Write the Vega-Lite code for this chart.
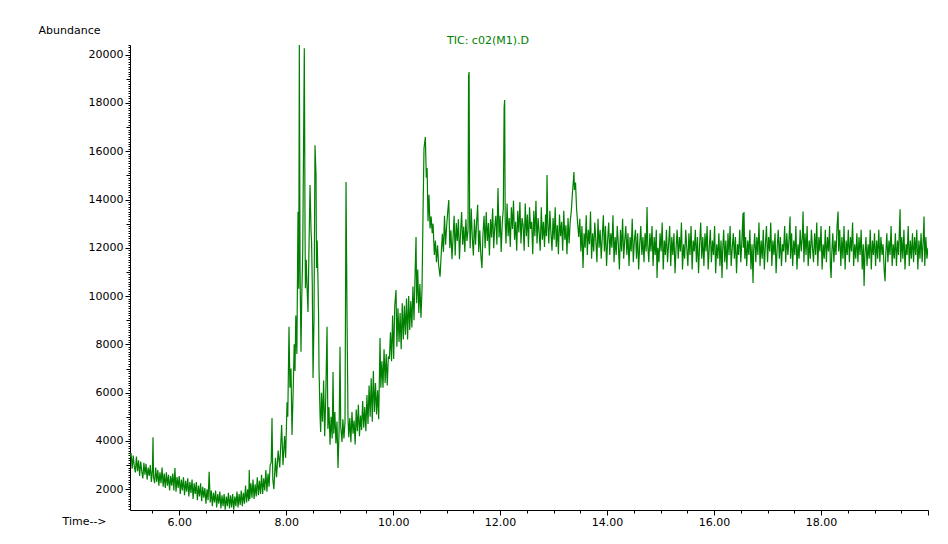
{
  "$schema": "https://vega.github.io/schema/vega-lite/v6.json",
  "width": 798,
  "height": 465,
  "autosize": {"type": "none"},
  "padding": {"left": 130, "top": 45, "right": 20, "bottom": 34},
  "background": "white",
  "title": {
    "text": "TIC: c02(M1).D",
    "anchor": "start",
    "frame": "group",
    "dx": 317,
    "dy": 34,
    "offset": 1,
    "baseline": "bottom",
    "color": "#008000",
    "font": "DejaVu Sans",
    "fontSize": 11,
    "fontWeight": "normal"
  },
  "data": {
    "values": [
      {"t":5.08,"a":3350},{"t":5.10,"a":3500},{"t":5.12,"a":2850},{"t":5.14,"a":3400},{"t":5.16,"a":2950},
      {"t":5.18,"a":2700},{"t":5.20,"a":3350},{"t":5.22,"a":2750},{"t":5.24,"a":3200},{"t":5.26,"a":2550},
      {"t":5.28,"a":3150},{"t":5.30,"a":2750},{"t":5.32,"a":2450},{"t":5.34,"a":3100},{"t":5.36,"a":2600},
      {"t":5.38,"a":3050},{"t":5.40,"a":2400},{"t":5.42,"a":2900},{"t":5.44,"a":2550},{"t":5.46,"a":3000},
      {"t":5.48,"a":2300},{"t":5.50,"a":2850},{"t":5.51,"a":4150},{"t":5.52,"a":2500},{"t":5.54,"a":2250},
      {"t":5.56,"a":2900},{"t":5.58,"a":2300},{"t":5.60,"a":2800},{"t":5.62,"a":2150},{"t":5.64,"a":2700},
      {"t":5.66,"a":2250},{"t":5.68,"a":2900},{"t":5.70,"a":2100},{"t":5.72,"a":2650},{"t":5.74,"a":2050},
      {"t":5.76,"a":2700},{"t":5.78,"a":2150},{"t":5.80,"a":2600},{"t":5.82,"a":1950},{"t":5.84,"a":2550},
      {"t":5.86,"a":2150},{"t":5.88,"a":2650},{"t":5.90,"a":1950},{"t":5.92,"a":2880},{"t":5.94,"a":1900},
      {"t":5.96,"a":2500},{"t":5.98,"a":2050},{"t":6.00,"a":2550},{"t":6.02,"a":1800},{"t":6.04,"a":2400},
      {"t":6.06,"a":1950},{"t":6.08,"a":2500},{"t":6.10,"a":1750},{"t":6.12,"a":2350},{"t":6.14,"a":1900},
      {"t":6.16,"a":2450},{"t":6.18,"a":1700},{"t":6.20,"a":2300},{"t":6.22,"a":1850},{"t":6.24,"a":2400},
      {"t":6.26,"a":1600},{"t":6.28,"a":2250},{"t":6.30,"a":1800},{"t":6.32,"a":2300},{"t":6.34,"a":1550},
      {"t":6.36,"a":2150},{"t":6.38,"a":1700},{"t":6.40,"a":2250},{"t":6.42,"a":1500},{"t":6.44,"a":2100},
      {"t":6.46,"a":1650},{"t":6.48,"a":2050},{"t":6.50,"a":1400},{"t":6.52,"a":2000},{"t":6.54,"a":1550},
      {"t":6.56,"a":2720},{"t":6.58,"a":1450},{"t":6.60,"a":1950},{"t":6.62,"a":1300},{"t":6.64,"a":1850},
      {"t":6.66,"a":1450},{"t":6.68,"a":1950},{"t":6.70,"a":1250},{"t":6.72,"a":1800},{"t":6.74,"a":1400},
      {"t":6.76,"a":1900},{"t":6.78,"a":1200},{"t":6.80,"a":1750},{"t":6.82,"a":1300},{"t":6.84,"a":1800},
      {"t":6.86,"a":1150},{"t":6.88,"a":1700},{"t":6.90,"a":1300},{"t":6.92,"a":1850},{"t":6.94,"a":1200},
      {"t":6.96,"a":1750},{"t":6.98,"a":1250},{"t":7.00,"a":1800},{"t":7.02,"a":1150},{"t":7.04,"a":1700},
      {"t":7.06,"a":1300},{"t":7.08,"a":1900},{"t":7.10,"a":1250},{"t":7.12,"a":1800},{"t":7.14,"a":1350},
      {"t":7.16,"a":1950},{"t":7.18,"a":1300},{"t":7.20,"a":1850},{"t":7.22,"a":1400},{"t":7.24,"a":2150},
      {"t":7.26,"a":1450},{"t":7.28,"a":2000},{"t":7.30,"a":1500},{"t":7.31,"a":2800},{"t":7.32,"a":1600},
      {"t":7.34,"a":2250},{"t":7.36,"a":1650},{"t":7.38,"a":2400},{"t":7.40,"a":1600},{"t":7.42,"a":2200},
      {"t":7.44,"a":1700},{"t":7.46,"a":2500},{"t":7.48,"a":1750},{"t":7.50,"a":2350},{"t":7.52,"a":1800},
      {"t":7.54,"a":2600},{"t":7.56,"a":1800},{"t":7.58,"a":2450},{"t":7.60,"a":1950},{"t":7.62,"a":2800},
      {"t":7.64,"a":1900},{"t":7.66,"a":2650},{"t":7.68,"a":2100},{"t":7.70,"a":3000},{"t":7.72,"a":3100},
      {"t":7.735,"a":4950},{"t":7.75,"a":2400},{"t":7.77,"a":2000},{"t":7.80,"a":3300},{"t":7.82,"a":2500},
      {"t":7.85,"a":3600},{"t":7.88,"a":2900},{"t":7.915,"a":4660},{"t":7.94,"a":3000},{"t":7.97,"a":4200},
      {"t":7.99,"a":3300},{"t":8.016,"a":5600},{"t":8.03,"a":5000},{"t":8.053,"a":8730},{"t":8.07,"a":6200},
      {"t":8.09,"a":7000},{"t":8.109,"a":4250},{"t":8.13,"a":6000},{"t":8.15,"a":8000},{"t":8.165,"a":6900},
      {"t":8.18,"a":9200},{"t":8.20,"a":7600},{"t":8.221,"a":13490},{"t":8.235,"a":10300},{"t":8.246,"a":20400},
      {"t":8.26,"a":11000},{"t":8.277,"a":7690},{"t":8.29,"a":9800},{"t":8.31,"a":11900},{"t":8.339,"a":20270},
      {"t":8.345,"a":17380},{"t":8.352,"a":12950},{"t":8.36,"a":10330},{"t":8.375,"a":11500},{"t":8.39,"a":10400},
      {"t":8.408,"a":9340},{"t":8.425,"a":11800},{"t":8.446,"a":14600},{"t":8.465,"a":12700},{"t":8.475,"a":12240},
      {"t":8.488,"a":10500},{"t":8.502,"a":6610},{"t":8.52,"a":9000},{"t":8.539,"a":16250},{"t":8.558,"a":15020},
      {"t":8.567,"a":11160},{"t":8.58,"a":12300},{"t":8.595,"a":10590},{"t":8.605,"a":9340},{"t":8.614,"a":7000},
      {"t":8.633,"a":5080},{"t":8.645,"a":4370},{"t":8.66,"a":6000},{"t":8.68,"a":4800},{"t":8.70,"a":6500},
      {"t":8.72,"a":4200},{"t":8.74,"a":5800},{"t":8.764,"a":8730},{"t":8.78,"a":4500},{"t":8.80,"a":5400},
      {"t":8.82,"a":3840},{"t":8.84,"a":5000},{"t":8.86,"a":4100},{"t":8.876,"a":6860},{"t":8.89,"a":4300},
      {"t":8.91,"a":5200},{"t":8.93,"a":3900},{"t":8.95,"a":4800},{"t":8.969,"a":2880},{"t":8.99,"a":4500},
      {"t":9.007,"a":7900},{"t":9.02,"a":4600},{"t":9.044,"a":3960},{"t":9.06,"a":4900},{"t":9.08,"a":4100},
      {"t":9.10,"a":4800},{"t":9.119,"a":14730},{"t":9.138,"a":9090},{"t":9.156,"a":4950},{"t":9.17,"a":4150},
      {"t":9.19,"a":4950},{"t":9.21,"a":3950},{"t":9.23,"a":5200},{"t":9.25,"a":4300},{"t":9.27,"a":4850},
      {"t":9.29,"a":3850},{"t":9.31,"a":5300},{"t":9.33,"a":4400},{"t":9.35,"a":5500},{"t":9.37,"a":4200},
      {"t":9.39,"a":5050},{"t":9.41,"a":4450},{"t":9.43,"a":5650},{"t":9.45,"a":4550},{"t":9.47,"a":5400},
      {"t":9.49,"a":4400},{"t":9.51,"a":5900},{"t":9.53,"a":4700},{"t":9.55,"a":6300},{"t":9.57,"a":5000},
      {"t":9.59,"a":6600},{"t":9.61,"a":4800},{"t":9.63,"a":6900},{"t":9.65,"a":5200},{"t":9.67,"a":6400},
      {"t":9.69,"a":5100},{"t":9.71,"a":6100},{"t":9.73,"a":4900},{"t":9.755,"a":8260},{"t":9.77,"a":6200},
      {"t":9.79,"a":7300},{"t":9.81,"a":6200},{"t":9.83,"a":7800},{"t":9.85,"a":6400},{"t":9.87,"a":7600},
      {"t":9.89,"a":6300},{"t":9.91,"a":7500},{"t":9.93,"a":7400},{"t":9.95,"a":8500},{"t":9.97,"a":7300},
      {"t":9.99,"a":9200},{"t":10.01,"a":7400},{"t":10.03,"a":9600},{"t":10.054,"a":10250},{"t":10.07,"a":7900},
      {"t":10.09,"a":9500},{"t":10.11,"a":8100},{"t":10.13,"a":9300},{"t":10.15,"a":7800},{"t":10.17,"a":9700},
      {"t":10.19,"a":8200},{"t":10.21,"a":9600},{"t":10.23,"a":8400},{"t":10.25,"a":9900},{"t":10.27,"a":8200},
      {"t":10.29,"a":10000},{"t":10.31,"a":8600},{"t":10.33,"a":9800},{"t":10.35,"a":8700},{"t":10.37,"a":10400},
      {"t":10.39,"a":9000},{"t":10.41,"a":10900},{"t":10.428,"a":12450},{"t":10.44,"a":9700},{"t":10.46,"a":11100},
      {"t":10.48,"a":9300},{"t":10.50,"a":10500},{"t":10.52,"a":9100},{"t":10.54,"a":10300},{"t":10.559,"a":13480},
      {"t":10.577,"a":16130},{"t":10.602,"a":16590},{"t":10.62,"a":14900},{"t":10.635,"a":15300},{"t":10.652,"a":13100},
      {"t":10.67,"a":14200},{"t":10.69,"a":12800},{"t":10.71,"a":13300},{"t":10.73,"a":12600},{"t":10.746,"a":13000},
      {"t":10.77,"a":11700},{"t":10.79,"a":12300},{"t":10.81,"a":11400},{"t":10.83,"a":12100},{"t":10.85,"a":11300},
      {"t":10.877,"a":10800},{"t":10.90,"a":11800},{"t":10.92,"a":12580},{"t":10.94,"a":11830},{"t":10.96,"a":13330},
      {"t":10.98,"a":12130},{"t":11.00,"a":12880},{"t":11.02,"a":13480},{"t":11.04,"a":13980},{"t":11.06,"a":11980},
      {"t":11.08,"a":12730},{"t":11.10,"a":11530},{"t":11.12,"a":12430},{"t":11.14,"a":13330},{"t":11.16,"a":11680},
      {"t":11.18,"a":13030},{"t":11.20,"a":12280},{"t":11.22,"a":13180},{"t":11.24,"a":11530},{"t":11.26,"a":12580},
      {"t":11.28,"a":13480},{"t":11.30,"a":12130},{"t":11.32,"a":12880},{"t":11.34,"a":11830},{"t":11.36,"a":13180},
      {"t":11.38,"a":12280},{"t":11.40,"a":12730},{"t":11.41,"a":19100},{"t":11.42,"a":19280},{"t":11.43,"a":13030},
      {"t":11.44,"a":11980},{"t":11.46,"a":13630},{"t":11.48,"a":12430},{"t":11.50,"a":11680},{"t":11.52,"a":13180},
      {"t":11.54,"a":12130},{"t":11.56,"a":13030},{"t":11.58,"a":13780},{"t":11.60,"a":11830},{"t":11.62,"a":12730},
      {"t":11.64,"a":11680},{"t":11.66,"a":11160},{"t":11.68,"a":12580},{"t":11.70,"a":13330},{"t":11.72,"a":11980},
      {"t":11.74,"a":13480},{"t":11.76,"a":12280},{"t":11.78,"a":13030},{"t":11.80,"a":11680},{"t":11.82,"a":13180},
      {"t":11.84,"a":12430},{"t":11.86,"a":13630},{"t":11.88,"a":11980},{"t":11.90,"a":12880},{"t":11.92,"a":13330},
      {"t":11.94,"a":12130},{"t":11.96,"a":14480},{"t":11.98,"a":12430},{"t":12.00,"a":13330},{"t":12.02,"a":11830},
      {"t":12.04,"a":13030},{"t":12.06,"a":13630},{"t":12.075,"a":17800},{"t":12.085,"a":18120},{"t":12.095,"a":13080},
      {"t":12.11,"a":12180},{"t":12.13,"a":13830},{"t":12.15,"a":12480},{"t":12.17,"a":13230},{"t":12.19,"a":12030},
      {"t":12.21,"a":13680},{"t":12.23,"a":12780},{"t":12.25,"a":13950},{"t":12.27,"a":12330},{"t":12.29,"a":13080},
      {"t":12.31,"a":11880},{"t":12.33,"a":13530},{"t":12.35,"a":12630},{"t":12.37,"a":13900},{"t":12.39,"a":12180},
      {"t":12.41,"a":13230},{"t":12.43,"a":12930},{"t":12.45,"a":11880},{"t":12.47,"a":13830},{"t":12.49,"a":12480},
      {"t":12.51,"a":13380},{"t":12.53,"a":12030},{"t":12.55,"a":13680},{"t":12.57,"a":12780},{"t":12.59,"a":13080},
      {"t":12.61,"a":11730},{"t":12.63,"a":13530},{"t":12.65,"a":12480},{"t":12.67,"a":13950},{"t":12.69,"a":12180},
      {"t":12.71,"a":13230},{"t":12.73,"a":12630},{"t":12.75,"a":11880},{"t":12.77,"a":13680},{"t":12.79,"a":12330},
      {"t":12.81,"a":13080},{"t":12.83,"a":12030},{"t":12.85,"a":13380},{"t":12.865,"a":12480},{"t":12.877,"a":15020},
      {"t":12.89,"a":13080},{"t":12.91,"a":12180},{"t":12.93,"a":13530},{"t":12.95,"a":12630},{"t":12.97,"a":11880},
      {"t":12.99,"a":13230},{"t":13.01,"a":12330},{"t":13.03,"a":13680},{"t":13.05,"a":12030},{"t":13.07,"a":12930},
      {"t":13.09,"a":11730},{"t":13.11,"a":13380},{"t":13.13,"a":12480},{"t":13.15,"a":13080},{"t":13.17,"a":11880},
      {"t":13.19,"a":13530},{"t":13.21,"a":12330},{"t":13.23,"a":12930},{"t":13.25,"a":11730},{"t":13.27,"a":13230},
      {"t":13.29,"a":12180},{"t":13.31,"a":13080},{"t":13.33,"a":13500},{"t":13.35,"a":14200},{"t":13.37,"a":14800},
      {"t":13.38,"a":15140},{"t":13.39,"a":14400},{"t":13.41,"a":14700},{"t":13.43,"a":13600},{"t":13.45,"a":13000},
      {"t":13.47,"a":12450},{"t":13.49,"a":13200},{"t":13.51,"a":11850},{"t":13.53,"a":12900},{"t":13.55,"a":11160},
      {"t":13.57,"a":12600},{"t":13.59,"a":12000},{"t":13.61,"a":13350},{"t":13.63,"a":11700},{"t":13.65,"a":12750},
      {"t":13.67,"a":12150},{"t":13.69,"a":13500},{"t":13.71,"a":11550},{"t":13.73,"a":12600},{"t":13.75,"a":11850},
      {"t":13.77,"a":13050},{"t":13.79,"a":12300},{"t":13.81,"a":11400},{"t":13.83,"a":13200},{"t":13.85,"a":12000},
      {"t":13.87,"a":12750},{"t":13.89,"a":11550},{"t":13.91,"a":12450},{"t":13.93,"a":13350},{"t":13.95,"a":11850},
      {"t":13.97,"a":12900},{"t":13.99,"a":11250},{"t":14.01,"a":12300},{"t":14.03,"a":13050},{"t":14.05,"a":11700},
      {"t":14.07,"a":12600},{"t":14.09,"a":12000},{"t":14.11,"a":13350},{"t":14.13,"a":11400},{"t":14.15,"a":12450},
      {"t":14.17,"a":11700},{"t":14.19,"a":12900},{"t":14.21,"a":12150},{"t":14.23,"a":11100},{"t":14.25,"a":12750},
      {"t":14.27,"a":11850},{"t":14.29,"a":13200},{"t":14.31,"a":11550},{"t":14.33,"a":12300},{"t":14.35,"a":12900},
      {"t":14.37,"a":11700},{"t":14.39,"a":12600},{"t":14.41,"a":11250},{"t":14.43,"a":12450},{"t":14.45,"a":11850},
      {"t":14.47,"a":13200},{"t":14.49,"a":11400},{"t":14.51,"a":12300},{"t":14.53,"a":12750},{"t":14.55,"a":11550},
      {"t":14.57,"a":12600},{"t":14.59,"a":11100},{"t":14.61,"a":12150},{"t":14.63,"a":12900},{"t":14.65,"a":11700},
      {"t":14.67,"a":12450},{"t":14.69,"a":11400},{"t":14.71,"a":12600},{"t":14.73,"a":11850},{"t":14.747,"a":13690},
      {"t":14.76,"a":12150},{"t":14.78,"a":11400},{"t":14.80,"a":12600},{"t":14.82,"a":11850},{"t":14.84,"a":12900},
      {"t":14.86,"a":11250},{"t":14.88,"a":12450},{"t":14.90,"a":11700},{"t":14.92,"a":12750},{"t":14.934,"a":10750},
      {"t":14.95,"a":12000},{"t":14.97,"a":11400},{"t":14.99,"a":12600},{"t":15.01,"a":11850},{"t":15.03,"a":13050},
      {"t":15.05,"a":11100},{"t":15.07,"a":12300},{"t":15.09,"a":11700},{"t":15.11,"a":12750},{"t":15.13,"a":11400},
      {"t":15.15,"a":12150},{"t":15.17,"a":12900},{"t":15.19,"a":11250},{"t":15.21,"a":12450},{"t":15.23,"a":11700},
      {"t":15.25,"a":12600},{"t":15.27,"a":10950},{"t":15.29,"a":12000},{"t":15.31,"a":12750},{"t":15.33,"a":11550},
      {"t":15.35,"a":12450},{"t":15.37,"a":11850},{"t":15.39,"a":13050},{"t":15.41,"a":11100},{"t":15.43,"a":12150},
      {"t":15.45,"a":11550},{"t":15.47,"a":12750},{"t":15.49,"a":12000},{"t":15.51,"a":11250},{"t":15.53,"a":12600},
      {"t":15.55,"a":11700},{"t":15.57,"a":12900},{"t":15.59,"a":11100},{"t":15.61,"a":12300},{"t":15.63,"a":11850},
      {"t":15.65,"a":12750},{"t":15.67,"a":11400},{"t":15.69,"a":12450},{"t":15.71,"a":10950},{"t":15.73,"a":12150},
      {"t":15.75,"a":13050},{"t":15.77,"a":11550},{"t":15.79,"a":12450},{"t":15.81,"a":11250},{"t":15.83,"a":12600},
      {"t":15.85,"a":11850},{"t":15.87,"a":12900},{"t":15.89,"a":11100},{"t":15.91,"a":12000},{"t":15.93,"a":12750},
      {"t":15.95,"a":11400},{"t":15.97,"a":12300},{"t":15.99,"a":11700},{"t":16.01,"a":12900},{"t":16.03,"a":10950},
      {"t":16.05,"a":12150},{"t":16.07,"a":11550},{"t":16.09,"a":12600},{"t":16.11,"a":11250},{"t":16.13,"a":12300},
      {"t":16.149,"a":10750},{"t":16.16,"a":11850},{"t":16.18,"a":12750},{"t":16.20,"a":11400},{"t":16.22,"a":12300},
      {"t":16.24,"a":11100},{"t":16.26,"a":12600},{"t":16.28,"a":11700},{"t":16.30,"a":12900},{"t":16.32,"a":11250},
      {"t":16.34,"a":12000},{"t":16.36,"a":12600},{"t":16.38,"a":11550},{"t":16.40,"a":12450},{"t":16.42,"a":10950},
      {"t":16.44,"a":12150},{"t":16.46,"a":11700},{"t":16.48,"a":12750},{"t":16.50,"a":11400},{"t":16.52,"a":12300},
      {"t":16.542,"a":13440},{"t":16.55,"a":12000},{"t":16.56,"a":13480},{"t":16.575,"a":11550},{"t":16.59,"a":12450},
      {"t":16.61,"a":11250},{"t":16.63,"a":12300},{"t":16.65,"a":11700},{"t":16.67,"a":12750},{"t":16.69,"a":11100},
      {"t":16.71,"a":12150},{"t":16.729,"a":10540},{"t":16.74,"a":11850},{"t":16.76,"a":12600},{"t":16.78,"a":11400},
      {"t":16.80,"a":12450},{"t":16.82,"a":11700},{"t":16.84,"a":13050},{"t":16.86,"a":11250},{"t":16.88,"a":12300},
      {"t":16.90,"a":11550},{"t":16.92,"a":12750},{"t":16.94,"a":11100},{"t":16.96,"a":12150},{"t":16.98,"a":12900},
      {"t":17.00,"a":11400},{"t":17.02,"a":12450},{"t":17.04,"a":11850},{"t":17.06,"a":13050},{"t":17.08,"a":11250},
      {"t":17.10,"a":12300},{"t":17.12,"a":11700},{"t":17.14,"a":12600},{"t":17.16,"a":10950},{"t":17.18,"a":12000},
      {"t":17.20,"a":12750},{"t":17.22,"a":11550},{"t":17.24,"a":12450},{"t":17.26,"a":11250},{"t":17.28,"a":12150},
      {"t":17.30,"a":11850},{"t":17.32,"a":12900},{"t":17.34,"a":11400},{"t":17.36,"a":12600},{"t":17.38,"a":11700},
      {"t":17.40,"a":12300},{"t":17.421,"a":13300},{"t":17.43,"a":11550},{"t":17.45,"a":12600},{"t":17.47,"a":11250},
      {"t":17.49,"a":12300},{"t":17.51,"a":11700},{"t":17.53,"a":12900},{"t":17.55,"a":11100},{"t":17.57,"a":12150},
      {"t":17.59,"a":11550},{"t":17.61,"a":12750},{"t":17.63,"a":11850},{"t":17.65,"a":12450},{"t":17.664,"a":13500},
      {"t":17.68,"a":11400},{"t":17.70,"a":12600},{"t":17.72,"a":11700},{"t":17.74,"a":12900},{"t":17.76,"a":11250},
      {"t":17.78,"a":12300},{"t":17.80,"a":11550},{"t":17.82,"a":12750},{"t":17.84,"a":12000},{"t":17.86,"a":11400},
      {"t":17.88,"a":12600},{"t":17.90,"a":11700},{"t":17.92,"a":13050},{"t":17.94,"a":11250},{"t":17.96,"a":12450},
      {"t":17.98,"a":11850},{"t":18.00,"a":12900},{"t":18.02,"a":11100},{"t":18.04,"a":12150},{"t":18.06,"a":11550},
      {"t":18.08,"a":12750},{"t":18.10,"a":11400},{"t":18.12,"a":12450},{"t":18.14,"a":11850},{"t":18.16,"a":12900},
      {"t":18.175,"a":11250},{"t":18.188,"a":10750},{"t":18.20,"a":11700},{"t":18.22,"a":12600},{"t":18.24,"a":11400},
      {"t":18.26,"a":12300},{"t":18.28,"a":11700},{"t":18.30,"a":12900},{"t":18.319,"a":13500},{"t":18.33,"a":11850},
      {"t":18.35,"a":12750},{"t":18.37,"a":11250},{"t":18.39,"a":12450},{"t":18.41,"a":11550},{"t":18.43,"a":12900},
      {"t":18.45,"a":11100},{"t":18.47,"a":12300},{"t":18.49,"a":11700},{"t":18.51,"a":12750},{"t":18.53,"a":11400},
      {"t":18.55,"a":12450},{"t":18.57,"a":11850},{"t":18.59,"a":13050},{"t":18.61,"a":11250},{"t":18.63,"a":12150},
      {"t":18.65,"a":11550},{"t":18.67,"a":12600},{"t":18.69,"a":11400},{"t":18.71,"a":12450},{"t":18.73,"a":11700},
      {"t":18.75,"a":12750},{"t":18.77,"a":11100},{"t":18.79,"a":12150},{"t":18.805,"a":10420},{"t":18.82,"a":11700},
      {"t":18.84,"a":12450},{"t":18.86,"a":11250},{"t":18.88,"a":12150},{"t":18.90,"a":11550},{"t":18.92,"a":12750},
      {"t":18.94,"a":11100},{"t":18.96,"a":12300},{"t":18.98,"a":11700},{"t":19.00,"a":12600},{"t":19.02,"a":11250},
      {"t":19.04,"a":12300},{"t":19.06,"a":11550},{"t":19.08,"a":12750},{"t":19.10,"a":11400},{"t":19.12,"a":12450},
      {"t":19.14,"a":11700},{"t":19.16,"a":12150},{"t":19.18,"a":11100},{"t":19.197,"a":10620},{"t":19.21,"a":11700},
      {"t":19.23,"a":12600},{"t":19.25,"a":11400},{"t":19.27,"a":12300},{"t":19.29,"a":11700},{"t":19.31,"a":12900},
      {"t":19.33,"a":11250},{"t":19.35,"a":12150},{"t":19.37,"a":11550},{"t":19.39,"a":12600},{"t":19.41,"a":11250},
      {"t":19.43,"a":12300},{"t":19.45,"a":11700},{"t":19.465,"a":12750},{"t":19.478,"a":13600},{"t":19.49,"a":11400},
      {"t":19.51,"a":12450},{"t":19.53,"a":11550},{"t":19.55,"a":12750},{"t":19.57,"a":11100},{"t":19.59,"a":12150},
      {"t":19.61,"a":11700},{"t":19.63,"a":12900},{"t":19.65,"a":11250},{"t":19.67,"a":12300},{"t":19.69,"a":11550},
      {"t":19.71,"a":12600},{"t":19.73,"a":11400},{"t":19.75,"a":12450},{"t":19.77,"a":11700},{"t":19.79,"a":12750},
      {"t":19.81,"a":11100},{"t":19.83,"a":12300},{"t":19.85,"a":11550},{"t":19.87,"a":12600},{"t":19.89,"a":11400},
      {"t":19.91,"a":12300},{"t":19.926,"a":13300},{"t":19.94,"a":11250},{"t":19.96,"a":12450},{"t":19.98,"a":11550},
      {"t":20.00,"a":12000}
    ]
  },
  "mark": {"type": "line", "color": "#008000", "strokeWidth": 1.2, "clip": true},
  "encoding": {
    "x": {
      "field": "t",
      "type": "quantitative",
      "scale": {"domain": [5.08, 20.0], "nice": false, "zero": false},
      "axis": {
        "title": "Time-->",
        "titleAlign": "left",
        "titleBaseline": "middle",
        "titleX": -68,
        "titleY": 11,
        "titleFont": "DejaVu Sans",
        "titleFontSize": 11,
        "titleFontWeight": "normal",
        "titleColor": "black",
        "tickCount": 30,
        "labelExpr": "(datum.value % 2 === 0 && datum.value < 20) ? format(datum.value, '.2f') : ''",
        "labelOverlap": false,
        "labelFlush": false,
        "labelFont": "DejaVu Sans",
        "labelFontSize": 11,
        "labelColor": "black",
        "labelPadding": 1,
        "tickSize": {"condition": {"test": "datum.value % 2 === 0", "value": 5}, "value": 3},
        "tickColor": "black",
        "domainColor": "black",
        "grid": false
      }
    },
    "y": {
      "field": "a",
      "type": "quantitative",
      "scale": {"domain": [1140, 20400], "nice": false, "zero": false},
      "axis": {
        "title": "Abundance",
        "titleAngle": 0,
        "titleAlign": "left",
        "titleBaseline": "middle",
        "titleX": -92,
        "titleY": -15,
        "titleFont": "DejaVu Sans",
        "titleFontSize": 11,
        "titleFontWeight": "normal",
        "titleColor": "black",
        "tickCount": 200,
        "labelExpr": "datum.value % 2000 === 0 ? format(datum.value, 'd') : ''",
        "labelOverlap": false,
        "labelFlush": false,
        "labelFont": "DejaVu Sans",
        "labelFontSize": 11,
        "labelColor": "black",
        "labelPadding": 2,
        "tickSize": {"condition": [{"test": "datum.value % 2000 === 0", "value": 5}, {"test": "datum.value % 1000 === 0", "value": 4}], "value": 2},
        "tickColor": "black",
        "domainColor": "black",
        "grid": false
      }
    }
  },
  "config": {"view": {"stroke": null}}
}
